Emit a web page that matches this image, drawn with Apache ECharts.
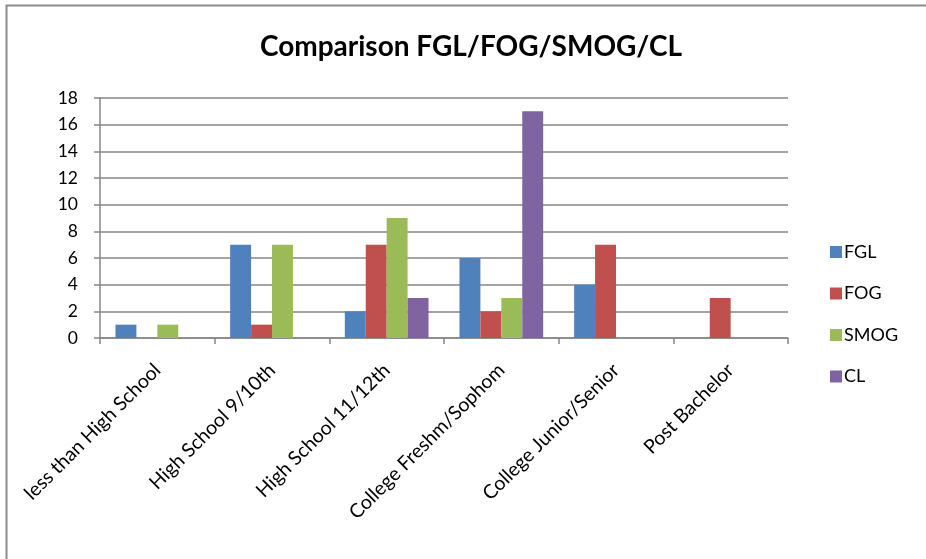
<!DOCTYPE html>
<html>
<head>
<meta charset="utf-8">
<script src="https://cdn.jsdelivr.net/npm/echarts@6/dist/echarts.min.js"></script>
<style>
  html, body { margin: 0; padding: 0; background: #ffffff; }
  #chart { width: 926px; height: 559px; }
</style>
</head>
<body>
<div id="chart"></div>
<script>
// Readability levels by education band
const categories = [
  'less than High School',
  'High School 9/10th',
  'High School 11/12th',
  'College Freshm/Sophom',
  'College Junior/Senior',
  'Post Bachelor'
];
const fgl  = [1, 7, 2, 6, 4, 0];
const fog  = [0, 1, 7, 2, 7, 3];
const smog = [1, 7, 9, 3, 0, 0];
const cl   = [0, 0, 3, 17, 0, 0];
const seriesNames = ['FGL', 'FOG', 'SMOG', 'CL'];
const seriesColors = ['#4F81BD', '#C0504D', '#9BBB59', '#8064A2'];

const FONT = 'Lato, "Open Sans", sans-serif';
const GRID_GRAY = '#878787';

const chart = echarts.init(document.getElementById('chart'), null, { renderer: 'canvas' });

const values = [fgl, fog, smog, cl];
const series = seriesNames.map((name, i) => ({
  name: name,
  type: 'bar',
  data: values[i],
  barGap: '0%',
  barCategoryGap: '27%',
  itemStyle: { color: seriesColors[i] }
}));

chart.setOption({
  backgroundColor: '#ffffff',
  animation: false,
  title: {
    text: 'Comparison FGL/FOG/SMOG/CL',
    left: 466,
    top: 28,
    textAlign: 'center',
    textStyle: { fontFamily: FONT, fontWeight: 'bold', fontSize: 28, color: '#000000' }
  },
  graphic: [{
    type: 'rect',
    shape: { x: 6.5, y: 5.5, width: 1200, height: 1200 },
    style: { fill: 'none', stroke: '#8c8c8c', lineWidth: 2 },
    silent: true
  }],
  legend: {
    orient: 'vertical',
    left: 825,
    top: 238,
    itemWidth: 12,
    itemHeight: 12,
    itemGap: 23.5,
    icon: 'rect',
    textStyle: { fontFamily: FONT, fontSize: 18, color: '#000000', padding: [0, 0, 0, -3] },
    data: seriesNames
  },
  grid: { left: 100, top: 98, width: 688, height: 240 },
  xAxis: {
    type: 'category',
    data: categories,
    boundaryGap: true,
    axisLine: { lineStyle: { color: GRID_GRAY, width: 1.5 } },
    axisTick: { show: true, length: 6, interval: 0, lineStyle: { color: GRID_GRAY, width: 1.5 } },
    axisLabel: {
      interval: 0,
      rotate: 45,
      margin: 29,
      fontFamily: FONT,
      fontSize: 19.5,
      color: '#000000'
    }
  },
  yAxis: {
    type: 'value',
    min: 0,
    max: 18,
    interval: 2,
    axisLine: { show: true, lineStyle: { color: GRID_GRAY, width: 1.5 } },
    axisTick: { show: true, length: 6, lineStyle: { color: GRID_GRAY, width: 1.5 } },
    splitLine: { lineStyle: { color: GRID_GRAY, width: 1.5 } },
    axisLabel: { margin: 22, fontFamily: FONT, fontSize: 17.5, color: '#000000' }
  },
  series: series
});
</script>
</body>
</html>
